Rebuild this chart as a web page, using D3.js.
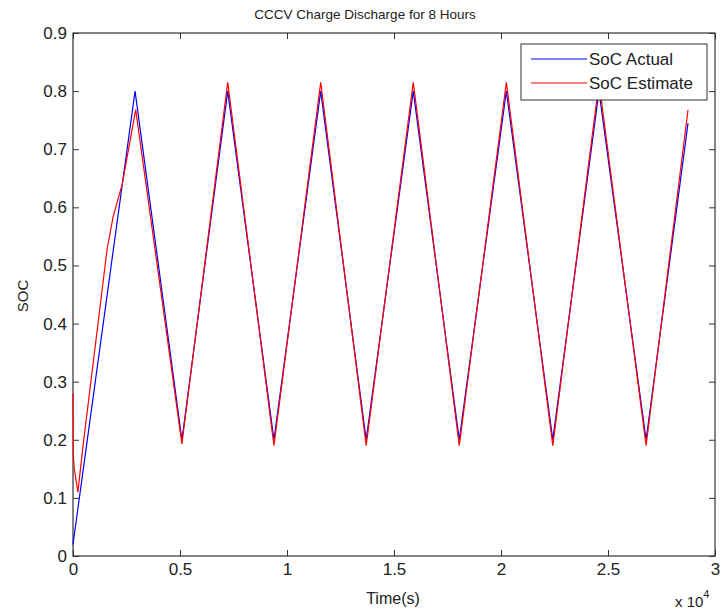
<!DOCTYPE html>
<html>
<head>
<meta charset="utf-8">
<script src="https://cdn.jsdelivr.net/npm/d3@7"></script>
<style>
  body { margin: 0; background: #fff; }
  text { font-family: "Liberation Sans", Arial, sans-serif; fill: #222; }
</style>
</head>
<body>
<div id="chart"></div>
<script>
// SoC actual (blue) - turning points
const timeActual = [0, 2900, 5090, 7230, 9390, 11575, 13700, 15900, 18050, 20250, 22420, 24580, 26780, 28740];
const socActual  = [0.02, 0.80, 0.20, 0.80, 0.20, 0.80, 0.20, 0.80, 0.20, 0.80, 0.20, 0.80, 0.20, 0.745];

// SoC estimate (red)
const timeEstimate = [0, 20, 60, 230, 470, 1590, 1870, 2300, 2930, 5090, 7230, 9390, 11575, 13700, 15900, 18050, 20250, 22420, 24580, 26780, 28740];
const socEstimate  = [0.28, 0.17, 0.15, 0.11, 0.19, 0.527, 0.583, 0.64, 0.768, 0.193, 0.815, 0.19, 0.815, 0.19, 0.815, 0.19, 0.815, 0.19, 0.815, 0.19, 0.768];

const xTicks = [0, 5000, 10000, 15000, 20000, 25000, 30000];
const yTicks = [0, 0.1, 0.2, 0.3, 0.4, 0.5, 0.6, 0.7, 0.8, 0.9];

const series = [
    { name: "SoC Actual", color: "#0000ff", t: timeActual, v: socActual },
    { name: "SoC Estimate", color: "#ff0000", t: timeEstimate, v: socEstimate }
];

const width = 721,
    height = 615,
    margin = { top: 33, right: 6, bottom: 59, left: 73 };

const svg = d3.select("#chart").append("svg")
    .attr("width", width)
    .attr("height", height);

const xScale = d3.scaleLinear()
    .domain([0, 30000])
    .range([margin.left, width - margin.right]);

const yScale = d3.scaleLinear()
    .domain([0, 0.9])
    .range([height - margin.bottom, margin.top]);

const fmtX = d => d3.format("~g")(d / 10000);
const fmtY = d => d3.format("~g")(d);

// axes (ticks pointing inward, mirrored on top/right)
const axisStyle = g => {
    g.select(".domain").remove();
    g.selectAll("line").attr("stroke", "#333");
    g.selectAll("text").style("font-size", "17px");
};

svg.append("g")
    .attr("transform", `translate(0,${yScale(0)})`)
    .call(d3.axisBottom(xScale).tickValues(xTicks).tickFormat(fmtX).tickSizeInner(-6).tickSizeOuter(0).tickPadding(7))
    .call(axisStyle);

svg.append("g")
    .attr("transform", `translate(0,${yScale(0.9)})`)
    .call(d3.axisTop(xScale).tickValues(xTicks).tickFormat("").tickSizeInner(-6).tickSizeOuter(0))
    .call(axisStyle);

svg.append("g")
    .attr("transform", `translate(${xScale(0)},0)`)
    .call(d3.axisLeft(yScale).tickValues(yTicks).tickFormat(fmtY).tickSizeInner(-6).tickSizeOuter(0).tickPadding(6))
    .call(axisStyle);

svg.append("g")
    .attr("transform", `translate(${xScale(30000)},0)`)
    .call(d3.axisRight(yScale).tickValues(yTicks).tickFormat("").tickSizeInner(-6).tickSizeOuter(0))
    .call(axisStyle);

svg.append("rect")
    .attr("x", xScale(0))
    .attr("y", yScale(0.9))
    .attr("width", xScale(30000) - xScale(0))
    .attr("height", yScale(0) - yScale(0.9))
    .attr("fill", "none")
    .attr("stroke", "#333")
    .attr("stroke-width", 1.2);

// lines
const line = d3.line()
    .x(d => xScale(d[0]))
    .y(d => yScale(d[1]));

series.forEach(s => {
    svg.append("path")
        .datum(s.t.map((t, i) => [t, s.v[i]]))
        .attr("fill", "none")
        .attr("stroke", s.color)
        .attr("stroke-width", 1.2)
        .attr("d", line);
});

// labels
svg.append("text")
    .attr("x", 365)
    .attr("y", 19)
    .attr("text-anchor", "middle")
    .style("font-size", "13.5px")
    .text("CCCV Charge Discharge for 8 Hours");

svg.append("text")
    .attr("x", 393)
    .attr("y", 604)
    .attr("text-anchor", "middle")
    .style("font-size", "16px")
    .text("Time(s)");

svg.append("text")
    .attr("transform", "translate(28,296) rotate(-90)")
    .attr("text-anchor", "middle")
    .style("font-size", "15px")
    .text("SOC");

const expo = svg.append("text")
    .attr("x", 675)
    .attr("y", 607)
    .style("font-size", "15px");
expo.append("tspan").text("x 10");
expo.append("tspan").attr("dy", -9).style("font-size", "11px").text("4");

// legend
const legend = svg.append("g").attr("transform", "translate(521,44)");
legend.append("rect")
    .attr("width", 186)
    .attr("height", 56)
    .attr("fill", "#fff")
    .attr("stroke", "#333");

series.forEach((s, i) => {
    const y = 15 + i * 24;
    legend.append("line")
        .attr("x1", 10).attr("x2", 66)
        .attr("y1", y).attr("y2", y)
        .attr("stroke", s.color)
        .attr("stroke-width", 1.2);
    legend.append("text")
        .attr("x", 68)
        .attr("y", y + 6)
        .style("font-size", "17px")
        .text(s.name);
});
</script>
</body>
</html>
